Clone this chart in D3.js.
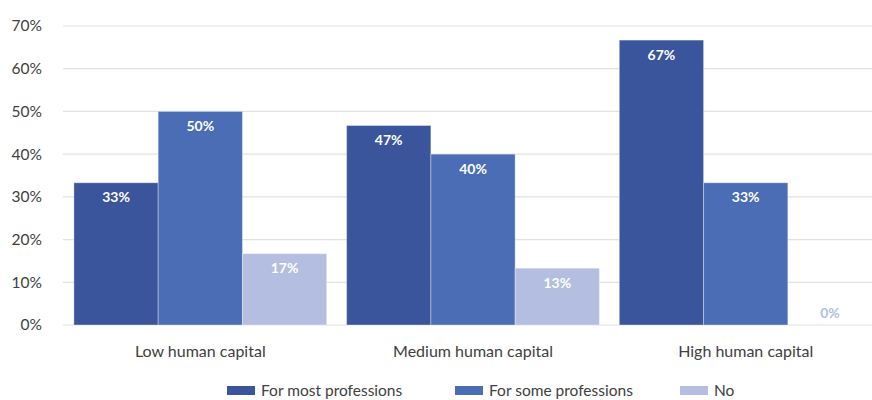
<!DOCTYPE html>
<html><head><meta charset="utf-8">
<script src="https://cdn.jsdelivr.net/npm/d3@7"></script>
<style>body{margin:0;background:#fff}svg{display:block}text{font-family:Lato,"Open Sans",sans-serif}</style>
</head><body><svg id="c" width="872" height="400"></svg>
<script>
const categories = ["Low human capital", "Medium human capital", "High human capital"];
const seriesNames = ["For most professions", "For some professions", "No"];
const mostValues = [33.3, 46.7, 66.7];
const someValues = [50, 40, 33.3];
const noValues = [16.7, 13.3, 0];
const yTicks = [0, 10, 20, 30, 40, 50, 60, 70];
const colors = ["#3A559B", "#4A6DB5", "#B4BEE0"];

const series = [mostValues, someValues, noValues];
const svg = d3.select("#c");
const x0 = d3.scaleBand().domain(categories).range([63, 883]).paddingInner(0.073).paddingOuter(0.04);
const x1 = d3.scaleBand().domain(seriesNames).range([0, x0.bandwidth()]);
const y = d3.scaleLinear().domain([0, 70]).range([325, 26]);

// grid
svg.append("g").selectAll("line").data(yTicks).join("line")
  .attr("x1", 63).attr("x2", 872).attr("y1", d => y(d)).attr("y2", d => y(d))
  .attr("stroke", "#e2e2e2").attr("stroke-width", 1.2);

// y axis
const ya = svg.append("g").attr("transform", "translate(42,0)")
  .call(d3.axisLeft(y).tickValues(yTicks).tickFormat(d => d + "%").tickSize(0));
ya.select(".domain").remove();
ya.selectAll("text").attr("font-size", 15.5).attr("fill", "#404040").attr("font-family", "Lato,sans-serif").attr("x", 0);

// bars
const groups = svg.append("g").selectAll("g").data(categories).join("g")
  .attr("transform", d => `translate(${x0(d)},0)`);
groups.each(function(cat, ci) {
  const g = d3.select(this);
  seriesNames.forEach((s, si) => {
    const v = series[si][ci];
    g.append("rect").attr("x", x1(s)).attr("width", x1.bandwidth())
      .attr("y", y(v)).attr("height", y(0) - y(v))
      .attr("fill", colors[si]).attr("stroke", "rgba(255,255,255,0.35)").attr("stroke-width", 1);
    const t = g.append("text").attr("x", x1(s) + x1.bandwidth() / 2)
      .attr("text-anchor", "middle").attr("font-size", 14).attr("font-weight", "bold")
      .attr("font-family", "'Open Sans',sans-serif").text(Math.round(v) + "%");
    if (v === 0) t.attr("y", y(v) - 7).attr("fill", colors[2]);
    else t.attr("y", y(v) + 19.5).attr("fill", "#fff");
  });
});

// x axis labels
const xa = svg.append("g").attr("transform", "translate(0,325)")
  .call(d3.axisBottom(x0).tickSize(0));
xa.select(".domain").remove();
xa.selectAll("text").attr("font-size", 16).attr("fill", "#404040").attr("font-family", "Lato,sans-serif")
  .attr("y", 32).attr("dy", "0");

// legend
const legX = [227, 455, 680];
const leg = svg.append("g").selectAll("g").data(seriesNames).join("g")
  .attr("transform", (d, i) => `translate(${legX[i]},386)`);
leg.append("rect").attr("width", 28).attr("height", 9).attr("fill", (d, i) => colors[i]);
leg.append("text").attr("x", 34).attr("y", 9.5).attr("font-size", 15.5).attr("fill", "#404040").text(d => d);
</script></body></html>
